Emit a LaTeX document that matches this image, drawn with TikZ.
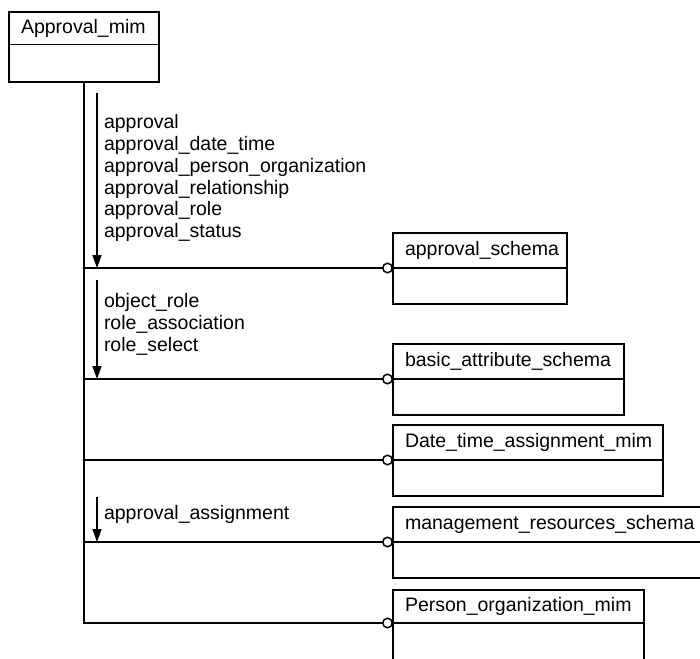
\documentclass[tikz,border=0pt]{standalone}
\usepackage{fontspec}
\setmainfont{Liberation Sans}
\usetikzlibrary{arrows.meta, calc}

\begin{document}
\begin{tikzpicture} [
        x=1pt, y=-1pt,
        line width=1.7pt,
        every node/.style={font=\fontsize{19.5}{21.8}\selectfont, outer sep=0pt},
        title/.style={draw, anchor=north west, minimum height=35pt, text height=13.8pt, text depth=4pt, inner xsep=12pt, inner ysep=0pt, align=left, text width=#1-24pt},
        body/.style={draw, anchor=north, minimum width=#1, minimum height=36pt, inner sep=0pt},
        link/.style={-{Circle[open, length=11pt, width=11pt, line width=1.5pt]}},
        flow/.style={-{Triangle[length=13pt, width=9pt]}},
        entities/.style={anchor=north west, inner sep=0pt, align=left}
    ]

    \clip (0,0) rectangle (700,658);

    \node[title=150pt, minimum height=32.5pt] (mim) at (9,12) {Approval\_mim};
    \node[body=150pt, minimum height=37.5pt] (mim body) at (mim.south) {};

    \node[title=174pt] (approval) at (393,233) {approval\_schema};
    \node[body=174pt] (approval body) at (approval.south) {};
    \node[title=231pt] (basic) at (393,344) {basic\_attribute\_schema};
    \node[body=231pt] (basic body) at (basic.south) {};
    \node[title=270pt] (date) at (393,425) {Date\_time\_assignment\_mim};
    \node[body=270pt] (date body) at (date.south) {};
    \node[title=317pt] (management) at (393,507) {management\_resources\_schema};
    \node[body=317pt] (management body) at (management.south) {};
    \node[title=251pt, minimum height=33pt] (person) at (393,590) {Person\_organization\_mim};
    \node[body=251pt, minimum height=42pt] (person body) at (person.south) {};

    \draw[link] (mim body.south) |- (person.south west);
    \foreach \target in {approval, basic, date, management}
        \draw[link] (mim body.south |- \target.south west) -- (\target.south west);

    \coordinate (flow a) at (97,93);
    \coordinate (flow b) at (97,280);
    \coordinate (flow c) at (97,497);
    \draw[flow] (flow a) -- (flow a |- approval.south west);
    \draw[flow] (flow b) -- (flow b |- basic.south west);
    \draw[flow] (flow c) -- (flow c |- management.south west);

    \node[entities] (approval entities) at (104,114.5) {approval\\approval\_date\_time\\approval\_person\_organization\\approval\_relationship\\approval\_role\\approval\_status};
    \node[entities] (role entities) at (104,293.5) {object\_role\\role\_association\\role\_select};
    \node[entities] (assignment entities) at (104,505.5) {approval\_assignment};

\end{tikzpicture}
\end{document}
